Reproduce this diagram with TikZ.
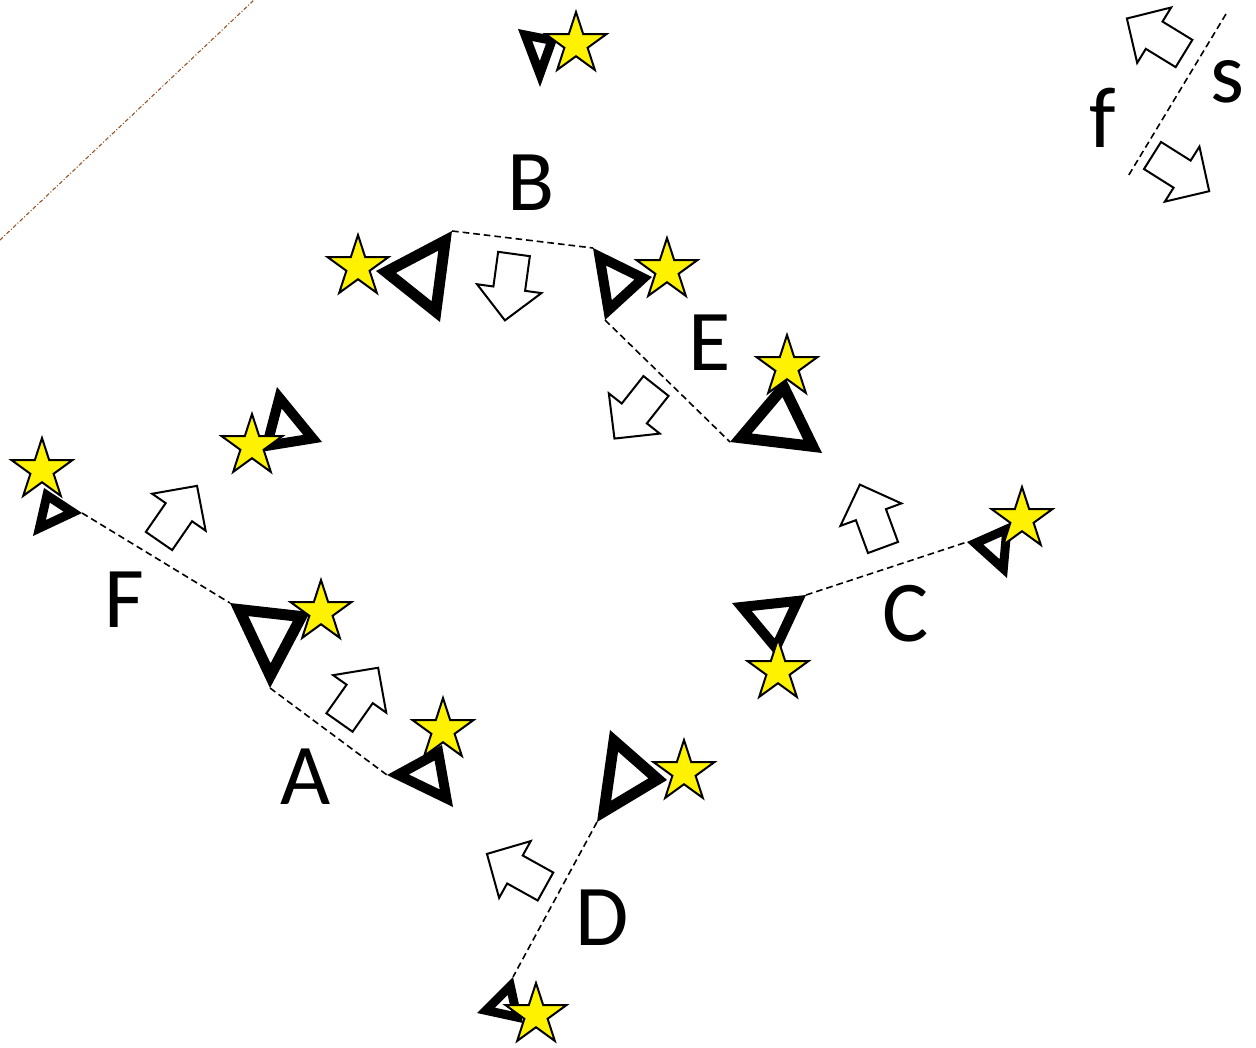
\documentclass[tikz,border=0pt]{standalone}
\usepackage{fontspec}
\setmainfont{Carlito}
\usetikzlibrary{shapes.geometric}
\definecolor{brownline}{RGB}{150,80,35}
\newcommand\hollowtri[4]{%
  \fill[white] (#1)--(#2)--(#3)--cycle;
  \begin{scope}
    \clip (#1)--(#2)--(#3)--cycle;
    \draw[black, line width=#4, line join=miter] (#1)--(#2)--(#3)--cycle;
  \end{scope}}
\tikzset{
  starnode/.style={star, star points=5, star point ratio=2.618, minimum size=48pt,
    inner sep=0pt, outer sep=0pt, draw=black, fill=yellow, line width=1.5pt},
  link/.style={draw=black, line width=1.2pt, dash pattern=on 5pt off 3pt},
  lbl/.style={font=\fontsize{65}{78}\selectfont, inner sep=0pt},
  blockarr/.style={draw=black, fill=white, line width=1.5pt, line join=miter},
  blockarrow/.pic={\draw[blockarr] (0,-16)--(35,-16)--(35,-32.5)--(67,0)--(35,32.5)--(35,16)--(0,16)--cycle;}
}
\begin{document}
\begin{tikzpicture}[x=0.75pt,y=-0.75pt]
\useasboundingbox (0,0) rectangle (1256,1048);

% brown dash-dot line
\draw[brownline, line width=0.8pt, dash pattern=on 3pt off 1.5pt on 0.8pt off 1.5pt] (0,240) -- (254,0);

% triangle vertices
\coordinate (a1) at (518,29);  \coordinate (a2) at (558,37);  \coordinate (a3) at (540,87);
\coordinate (b1) at (452,231); \coordinate (b2) at (376,271); \coordinate (b3) at (440,322);
\coordinate (c1) at (593,248); \coordinate (c2) at (652,277); \coordinate (c3) at (605,320);
\coordinate (d1) at (785,377); \coordinate (d2) at (730,442); \coordinate (d3) at (822,453);
\coordinate (e1) at (277,387); \coordinate (e2) at (322,442); \coordinate (e3) at (260,452);
\coordinate (f1) at (44,488);  \coordinate (f2) at (82,513);  \coordinate (f3) at (33,536);
\coordinate (g1) at (230,603); \coordinate (g2) at (310,612); \coordinate (g3) at (270,688);
\coordinate (h1) at (387,775); \coordinate (h2) at (442,745); \coordinate (h3) at (453,807);
\coordinate (i1) at (610,730); \coordinate (i2) at (667,780); \coordinate (i3) at (597,822);
\coordinate (j1) at (513,977); \coordinate (j2) at (477,1013); \coordinate (j3) at (523,1023);
\coordinate (k1) at (732,603); \coordinate (k2) at (806,595); \coordinate (k3) at (777,657);
\coordinate (l1) at (967,542); \coordinate (l2) at (1007,578); \coordinate (l3) at (1012,522);

% triangles
\hollowtri{a1}{a2}{a3}{13.5pt}
\hollowtri{b1}{b2}{b3}{16.5pt}
\hollowtri{c1}{c2}{c3}{15pt}
\hollowtri{d1}{d2}{d3}{16.5pt}
\hollowtri{e1}{e2}{e3}{15pt}
\hollowtri{f1}{f2}{f3}{13.5pt}
\hollowtri{g1}{g2}{g3}{16.5pt}
\hollowtri{h1}{h2}{h3}{15pt}
\hollowtri{i1}{i2}{i3}{16.5pt}
\hollowtri{j1}{j2}{j3}{13.5pt}
\hollowtri{k1}{k2}{k3}{15pt}
\hollowtri{l1}{l2}{l3}{13.5pt}

% stars
\node[starnode] (sa) at (576,44) {};
\node[starnode] (sb) at (358,267) {};
\node[starnode] (sc) at (667,270) {};
\node[starnode] (sd) at (787,367) {};
\node[starnode] (se) at (252,446) {};
\node[starnode] (sf) at (42,470) {};
\node[starnode] (sg) at (321,612) {};
\node[starnode] (sh) at (443,730) {};
\node[starnode] (si) at (684,772) {};
\node[starnode] (sj) at (536,1015) {};
\node[starnode] (sk) at (778,671) {};
\node[starnode] (sl) at (1022,519) {};

% dashed connectors
\draw[link] (b1) -- (c1);
\draw[link] (c3) -- (d2);
\draw[link] (f2) -- (g1);
\draw[link] (g3) -- (h1);
\draw[link] (i3) -- (j1);
\draw[link] (k2) -- (l1);
\coordinate (m1) at (1226,14);
\coordinate (m2) at (1127,178);
\draw[link] (m1) -- (m2);

% block arrows (tail centre, direction)
\pic[rotate=-97.8] at (514,254) {blockarrow};
\pic[rotate=-128.3] at (656,386) {blockarrow};
\pic[rotate=55.4] at (159,541) {blockarrow};
\pic[rotate=54.8] at (339.5,722.5) {blockarrow};
\pic[rotate=150.9] at (545.5,886.5) {blockarrow};
\pic[rotate=110.2] at (883,547.5) {blockarrow};
\pic[rotate=148.5] at (1184,53.5) {blockarrow};
\pic[rotate=-32.2] at (1152.5,155.5) {blockarrow};

% labels
\node[lbl] (labB) at (531,183) {B};
\node[lbl] (labE) at (710,343) {E};
\node[lbl] (labF) at (124,600) {F};
\node[lbl] (labA) at (306,777) {A};
\node[lbl] (labD) at (602,918) {D};
\node[lbl] (labC) at (906,614) {C};
\node[lbl] (labf) at (1103,118) {f};
\node[lbl] (labs) at (1227,82) {s};
\end{tikzpicture}
\end{document}
